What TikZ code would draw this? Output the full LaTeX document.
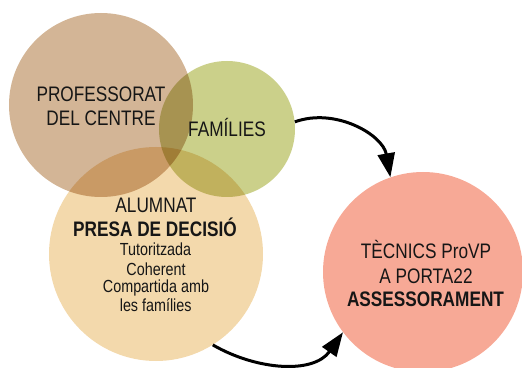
\documentclass[tikz,border=0pt]{standalone}
\usepackage{fontspec}
\setmainfont{Liberation Sans}[FakeStretch=0.82]
\usetikzlibrary{arrows.meta}
\definecolor{cbrown}{HTML}{D3B596}
\definecolor{cgreen}{HTML}{CBD08A}
\definecolor{ccream}{HTML}{F3D9AC}
\definecolor{csalmon}{HTML}{F7A996}
\definecolor{ink}{HTML}{161616}
\begin{document}
\begin{tikzpicture}[x=1pt,y=1pt,
  disc/.style={circle, inner sep=0pt, draw=none},
  big/.style={anchor=base, inner sep=0pt, text=ink, font=\fontsize{21}{24}\selectfont},
  bigb/.style={big, font=\fontsize{21}{24}\selectfont\bfseries},
  small/.style={anchor=base, inner sep=0pt, text=ink, font=\fontsize{17.5}{19}\selectfont},
  conn/.style={line width=3pt, draw=black, -{Triangle[length=24pt,width=17pt]}}]
\useasboundingbox (0,0) rectangle (522,367);
\begin{scope}[blend group=multiply]
  \node[disc, fill=ccream, minimum size=214pt] (alu) at (156,113) {};
  \node[disc, fill=cbrown, minimum size=184pt] (prof) at (101,262) {};
  \node[disc, fill=cgreen, minimum size=136pt] (fam) at (227,238) {};
\end{scope}
\node[disc, fill=csalmon, minimum size=200pt] (tec) at (423,95) {};

\node[big] (p1) at (101,265.5) {PROFESSORAT};
\node[big] (p2) at (101,241) {DEL CENTRE};
\node[big] (f1) at (227,230) {FAMÍLIES};

\node[big] (a1) at (156,154) {ALUMNAT};
\node[bigb] (a2) at (155,130) {PRESA DE DECISIÓ};
\node[small] (a3) at (155.5,111) {Tutoritzada};
\node[small] (a4) at (156,92) {Coherent};
\node[small] (a5) at (156,74.5) {Compartida amb};
\node[small] (a6) at (155.7,55.5) {les famílies};

\node[big] (t1) at (426,108) {TÈCNICS ProVP};
\node[big] (t2) at (426,84) {A PORTA22};
\node[bigb] (t3) at (425.5,61) {ASSESSORAMENT};

\draw[conn] (fam.6) to[out=20,in=100] (tec.109);
\draw[conn] (alu.-58) to[out=-30,in=-125] (tec.-143);
\end{tikzpicture}
\end{document}
